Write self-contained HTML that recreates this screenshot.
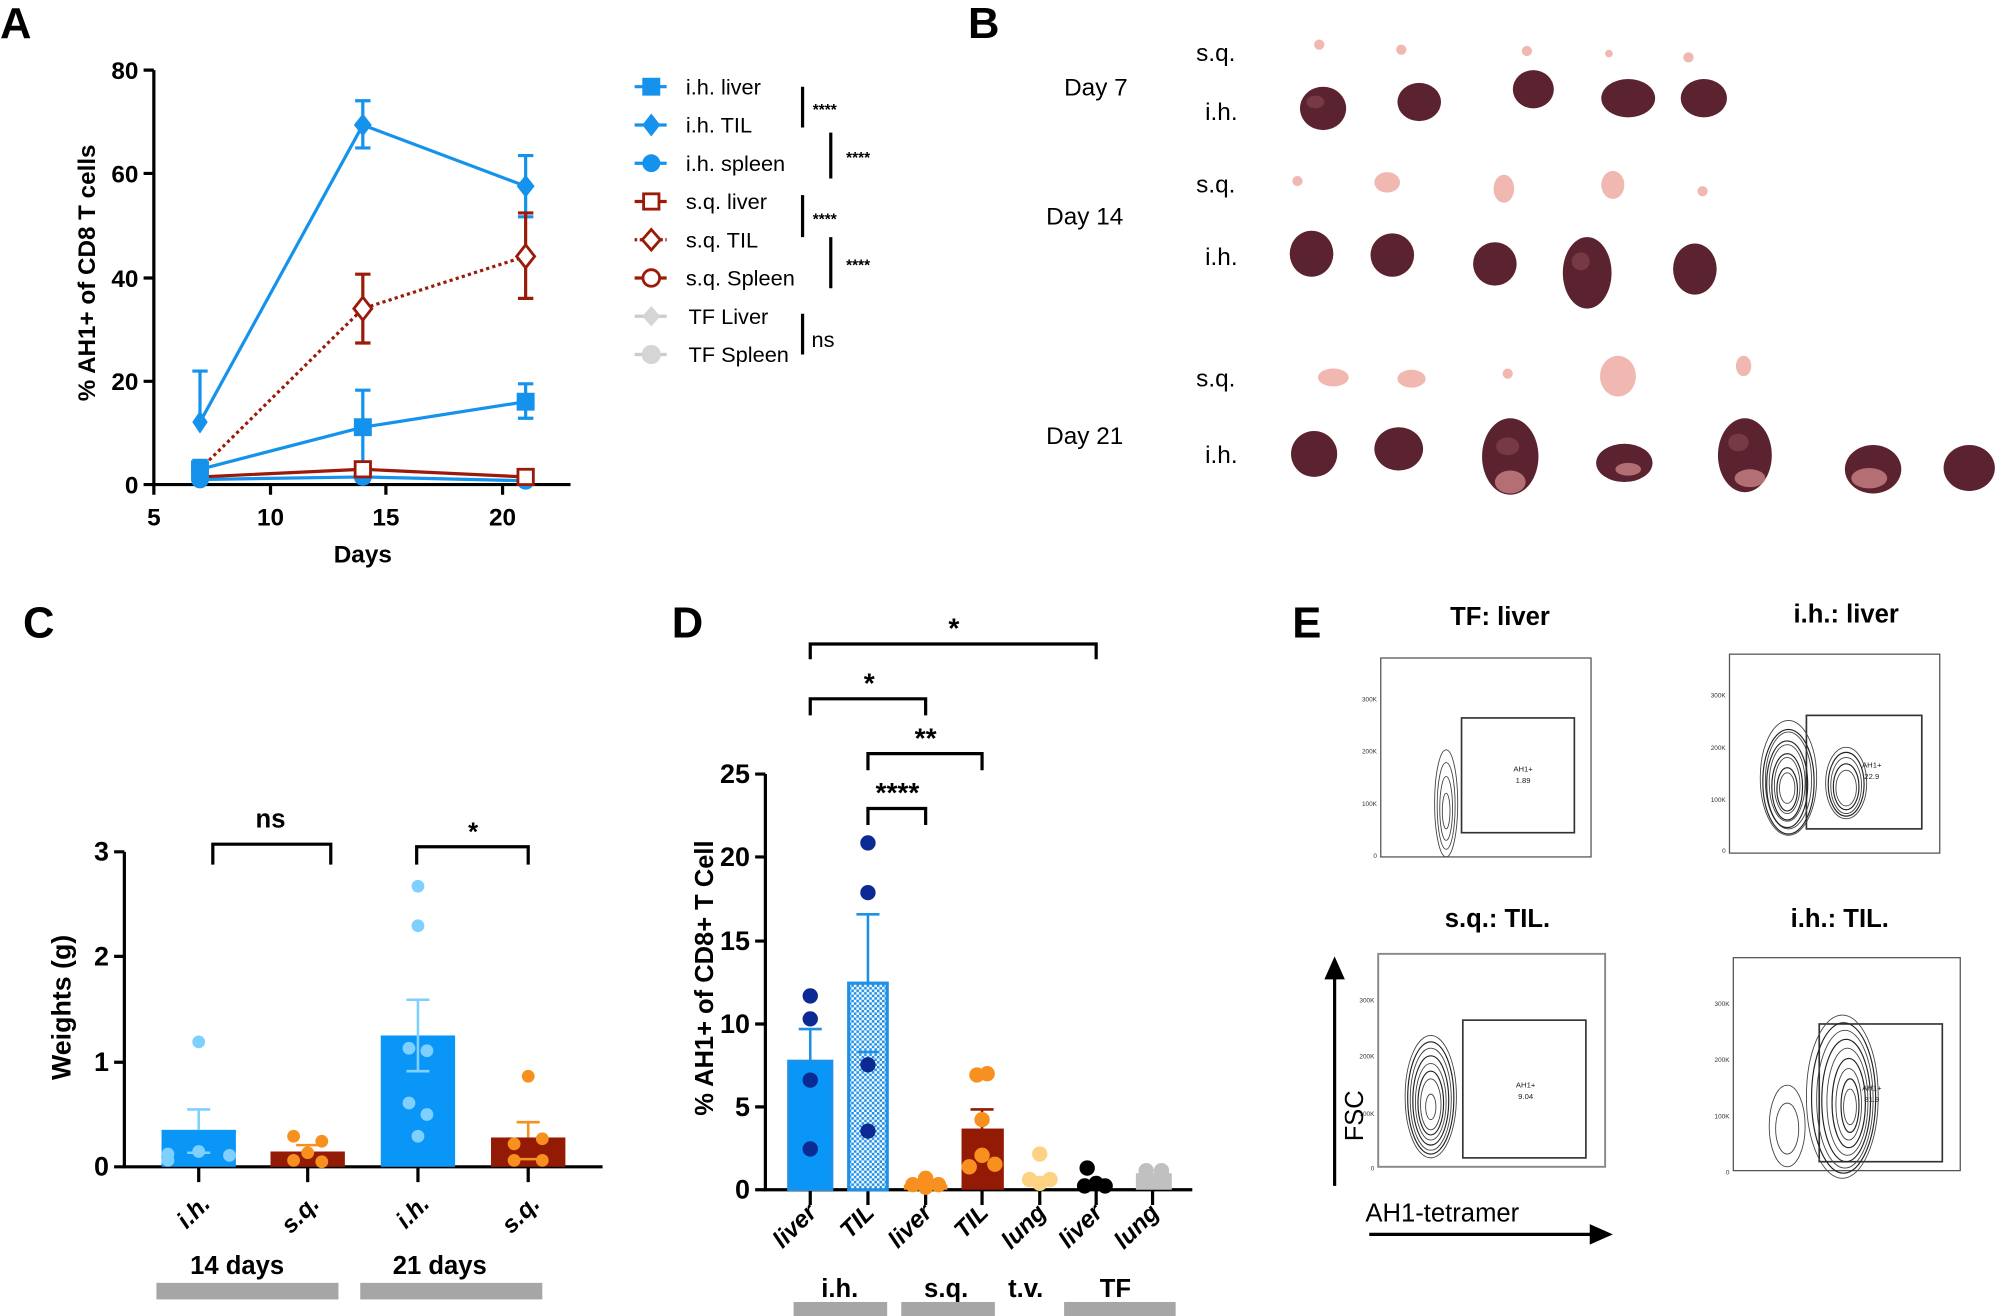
<!DOCTYPE html>
<html><head><meta charset="utf-8"><style>
html,body{margin:0;padding:0;background:#fff;}
svg{display:block;}
text{font-family:"Liberation Sans",sans-serif;}
</style></head><body>
<svg width="2000" height="1316" viewBox="0 0 1560 1032" preserveAspectRatio="none" xmlns="http://www.w3.org/2000/svg">
<defs>
<pattern id="hatch" width="4" height="4" patternUnits="userSpaceOnUse">
<rect width="4" height="4" fill="#fff"/><rect width="2" height="2" fill="#1e90e8"/><rect x="2" y="2" width="2" height="2" fill="#1e90e8"/>
</pattern>
</defs>
<g font-weight="bold" font-size="34" fill="#000">
<text x="0" y="30">A</text><text x="755" y="30">B</text>
<text x="18" y="500">C</text><text x="524" y="500">D</text><text x="1008" y="500">E</text>
</g>

<!-- Panel A -->
<g stroke="#000" stroke-width="2.5" fill="none">
<path d="M120 55 V380 H445"/>
<path d="M112 55H120M112 136H120M112 218H120M112 299H120M112 380H120"/>
<path d="M120 380V388M211 380V388M301 380V388M392 380V388"/>
</g>
<g font-size="19" font-weight="bold" text-anchor="end">
<text x="108" y="62">80</text><text x="108" y="143">60</text><text x="108" y="225">40</text><text x="108" y="306">20</text><text x="108" y="387">0</text>
</g>
<g font-size="19" font-weight="bold" text-anchor="middle">
<text x="120" y="412">5</text><text x="211" y="412">10</text><text x="301" y="412">15</text><text x="392" y="412">20</text>
<text x="283" y="441">Days</text>
</g>
<text transform="translate(74 214) rotate(-90)" font-size="19" font-weight="bold" text-anchor="middle">% AH1+ of CD8 T cells</text>
<g stroke="#1592ec" stroke-width="2.5" fill="none">
<path d="M156 331 L283 98 L410 146"/>
<path d="M156 368 L283 335 L410 315"/>
<path d="M156 376 L283 374 L410 377"/>
<path d="M156 331V291M150 291H162M283 98V79M277 79H289M283 98V116M277 116H289M410 146V122M404 122H416M410 146V170M404 170H416"/>
<path d="M156 368V361M150 361H162M283 335V306M277 306H289M283 335V364M277 364H289M410 315V301M404 301H416M410 315V328M404 328H416"/>
</g>
<g stroke="#9b1a0a" stroke-width="2.5" fill="none">
<path d="M156 368 L283 242 L410 201" stroke-dasharray="2.5 2.5"/>
<path d="M156 374 L283 368 L410 374"/>
<path d="M283 242V215M277 215H289M283 242V269M277 269H289M410 201V167M404 167H416M410 201V234M404 234H416"/>
</g>
<g fill="#1592ec">
<path d="M156 322 L162 331 L156 340 L150 331Z"/><path d="M283 89 L290 98 L283 107 L276 98Z"/><path d="M410 137 L417 146 L410 155 L403 146Z"/>
<rect x="149" y="361" width="14" height="14"/><rect x="276" y="328" width="14" height="14"/><rect x="403" y="308" width="14" height="14"/>
<circle cx="156" cy="376" r="7"/><circle cx="283" cy="374" r="7"/><circle cx="410" cy="377" r="7"/>
</g>
<g fill="#fff" stroke="#9b1a0a" stroke-width="2.2">
<path d="M283 233 L290 242 L283 251 L276 242Z"/><path d="M410 192 L417 201 L410 210 L403 201Z"/>
<rect x="277" y="362" width="12" height="12"/><rect x="404" y="368" width="12" height="12"/>
</g>
<g stroke-width="2.5" fill="none">
<path d="M495 68H520M495 98H520M495 128H520" stroke="#1592ec"/>
<path d="M495 158H520M495 218H520" stroke="#9b1a0a"/>
<path d="M495 188H520" stroke="#9b1a0a" stroke-dasharray="2 2"/>
<path d="M495 248H520M495 278H520" stroke="#ccc"/>
</g>
<rect x="501" y="61" width="14" height="14" fill="#1592ec"/>
<path d="M508 89 L515 98 L508 107 L501 98Z" fill="#1592ec"/>
<circle cx="508" cy="128" r="7" fill="#1592ec"/>
<rect x="502" y="152" width="12" height="12" fill="#fff" stroke="#9b1a0a" stroke-width="2.2"/>
<path d="M508 180 L515 188 L508 196 L501 188Z" fill="#fff" stroke="#9b1a0a" stroke-width="2.2"/>
<circle cx="508" cy="218" r="6.5" fill="#fff" stroke="#9b1a0a" stroke-width="2.2"/>
<path d="M508 240 L515 248 L508 256 L501 248Z" fill="#d5d5d5"/>
<circle cx="508" cy="278" r="7.5" fill="#d5d5d5"/>
<g font-size="17" fill="#000">
<text x="535" y="74">i.h. liver</text><text x="535" y="104">i.h. TIL</text><text x="535" y="134">i.h. spleen</text>
<text x="535" y="164">s.q. liver</text><text x="535" y="194">s.q. TIL</text><text x="535" y="224">s.q. Spleen</text>
<text x="537" y="254">TF Liver</text><text x="537" y="284">TF Spleen</text>
</g>
<g stroke="#000" stroke-width="2.5">
<path d="M626 68V100M648 104V140M626 153V186M648 186V226M626 246V278"/>
</g>
<g font-size="12" font-weight="bold"><text x="634" y="90">****</text><text x="660" y="128">****</text><text x="634" y="176">****</text><text x="660" y="212">****</text></g>
<text x="633" y="272" font-size="17">ns</text>

<!-- Panel B -->
<g font-size="19" fill="#000">
<text x="933" y="48">s.q.</text><text x="830" y="75">Day 7</text><text x="940" y="94">i.h.</text>
<text x="933" y="151">s.q.</text><text x="816" y="176">Day 14</text><text x="940" y="208">i.h.</text>
<text x="933" y="303">s.q.</text><text x="816" y="348">Day 21</text><text x="940" y="363">i.h.</text>
</g>
<g fill="#f0b8b0">
<circle cx="1029" cy="35" r="4"/><circle cx="1093" cy="39" r="4"/><circle cx="1191" cy="40" r="4"/><circle cx="1255" cy="42" r="3"/><circle cx="1317" cy="45" r="4"/>
<circle cx="1012" cy="142" r="4"/><ellipse cx="1082" cy="143" rx="10" ry="8"/><ellipse cx="1173" cy="148" rx="8" ry="11"/><ellipse cx="1258" cy="145" rx="9" ry="11"/><circle cx="1328" cy="150" r="4"/>
<ellipse cx="1040" cy="296" rx="12" ry="7"/><ellipse cx="1101" cy="297" rx="11" ry="7"/><circle cx="1176" cy="293" r="4"/><ellipse cx="1262" cy="295" rx="14" ry="16"/><ellipse cx="1360" cy="287" rx="6" ry="8"/>
</g>
<g fill="#5b2230">
<ellipse cx="1032" cy="85" rx="18" ry="17"/><ellipse cx="1107" cy="80" rx="17" ry="15"/><ellipse cx="1196" cy="70" rx="16" ry="15"/><ellipse cx="1270" cy="77" rx="21" ry="15"/><ellipse cx="1329" cy="77" rx="18" ry="15"/>
<ellipse cx="1023" cy="199" rx="17" ry="18"/><ellipse cx="1086" cy="200" rx="17" ry="17"/><ellipse cx="1166" cy="207" rx="17" ry="17"/><ellipse cx="1238" cy="214" rx="19" ry="28"/><ellipse cx="1322" cy="211" rx="17" ry="20"/>
<ellipse cx="1025" cy="356" rx="18" ry="18"/><ellipse cx="1091" cy="352" rx="19" ry="17"/><ellipse cx="1178" cy="358" rx="22" ry="30"/><ellipse cx="1267" cy="363" rx="22" ry="15"/><ellipse cx="1361" cy="357" rx="21" ry="29"/><ellipse cx="1461" cy="368" rx="22" ry="19"/><ellipse cx="1536" cy="367" rx="20" ry="18"/>
</g>
<g fill="#8a4a55" opacity="0.6">
<ellipse cx="1026" cy="80" rx="7" ry="5"/><ellipse cx="1176" cy="350" rx="9" ry="7"/><ellipse cx="1356" cy="347" rx="8" ry="7"/><ellipse cx="1233" cy="205" rx="7" ry="7"/>
</g>
<g fill="#d89090" opacity="0.7">
<ellipse cx="1178" cy="378" rx="12" ry="9"/><ellipse cx="1365" cy="375" rx="12" ry="7"/><ellipse cx="1270" cy="368" rx="10" ry="5"/><ellipse cx="1458" cy="375" rx="14" ry="8"/>
</g>

<!-- Panel C -->
<g stroke="#000" stroke-width="2.5" fill="none">
<path d="M97 668V915H470"/>
<path d="M89 668H97M89 750H97M89 833H97M89 915H97"/>
<path d="M155 915V927M240 915V927M326 915V927M412 915V927"/>
<path d="M166 678V662H258V678M325 678V664H412V678"/>
</g>
<g font-size="21" font-weight="bold" text-anchor="end">
<text x="85" y="675">3</text><text x="85" y="757">2</text><text x="85" y="840">1</text><text x="85" y="922">0</text>
</g>
<text transform="translate(55 790) rotate(-90)" font-size="21" font-weight="bold" text-anchor="middle">Weights (g)</text>
<g font-size="20" font-weight="bold" text-anchor="middle"><text x="211" y="649">ns</text><text x="369" y="659">*</text></g>
<rect x="126" y="886" width="58" height="29" fill="#0a96f7"/>
<rect x="211" y="903" width="58" height="12" fill="#931a04"/>
<rect x="297" y="812" width="58" height="103" fill="#0a96f7"/>
<rect x="383" y="892" width="58" height="23" fill="#931a04"/>
<g stroke="#7fd0ff" stroke-width="2"><path d="M155 886V870M146 870H164M326 812V784M317 784H335M326 812V840M317 840H335M146 904H164"/></g>
<g stroke="#f7901e" stroke-width="2"><path d="M240 903V898M231 898H249M412 892V880M403 880H421M403 909H421"/></g>
<g fill="#7fd0ff"><circle cx="155" cy="817" r="5"/><circle cx="131" cy="905" r="5"/><circle cx="131" cy="910" r="5"/><circle cx="155" cy="903" r="5"/><circle cx="179" cy="906" r="5"/>
<circle cx="326" cy="695" r="5"/><circle cx="326" cy="726" r="5"/><circle cx="319" cy="822" r="5"/><circle cx="333" cy="824" r="5"/><circle cx="319" cy="865" r="5"/><circle cx="333" cy="874" r="5"/><circle cx="326" cy="891" r="5"/></g>
<g fill="#f7901e"><circle cx="229" cy="891" r="5"/><circle cx="251" cy="895" r="5"/><circle cx="240" cy="904" r="5"/><circle cx="229" cy="910" r="5"/><circle cx="251" cy="911" r="5"/>
<circle cx="412" cy="844" r="5"/><circle cx="401" cy="897" r="5"/><circle cx="423" cy="893" r="5"/><circle cx="401" cy="910" r="5"/><circle cx="423" cy="910" r="5"/></g>
<g font-size="19" font-weight="bold" font-style="italic" text-anchor="end">
<text transform="translate(165 945) rotate(-45)">i.h.</text><text transform="translate(250 945) rotate(-45)">s.q.</text>
<text transform="translate(336 945) rotate(-45)">i.h.</text><text transform="translate(422 945) rotate(-45)">s.q.</text>
</g>
<g font-size="20" font-weight="bold" text-anchor="middle"><text x="185" y="999">14 days</text><text x="343" y="999">21 days</text></g>
<rect x="122" y="1006" width="142" height="13" fill="#a6a6a6"/><rect x="281" y="1006" width="142" height="13" fill="#a6a6a6"/>

<!-- Panel D -->
<g stroke="#000" stroke-width="2.5" fill="none">
<path d="M597 607V933H930"/>
<path d="M589 607H597M589 672H597M589 738H597M589 803H597M589 868H597M589 933H597"/>
<path d="M632 933V945M677 933V945M722 933V945M766 933V945M811 933V945M855 933V945M899 933V945"/>
<path d="M632 517V505H855V517M632 561V548H722V561M677 604V591H766V604M677 647V634H722V647"/>
</g>
<g font-size="21" font-weight="bold" text-anchor="end">
<text x="585" y="614">25</text><text x="585" y="679">20</text><text x="585" y="745">15</text><text x="585" y="810">10</text><text x="585" y="875">5</text><text x="585" y="940">0</text>
</g>
<text transform="translate(556 767) rotate(-90)" font-size="20" font-weight="bold" text-anchor="middle">% AH1+ of CD8+ T Cell</text>
<g font-size="22" font-weight="bold" text-anchor="middle"><text x="744" y="500">*</text><text x="678" y="543">*</text><text x="722" y="586">**</text><text x="700" y="629">****</text></g>
<rect x="615" y="832" width="34" height="101" fill="#0a96f7" stroke="#1e90e8" stroke-width="2"/>
<rect x="662" y="771" width="30" height="162" fill="url(#hatch)" stroke="#1e90e8" stroke-width="2.5"/>
<rect x="705" y="929" width="34" height="4" fill="#f7901e"/>
<rect x="750" y="885" width="33" height="48" fill="#931a04"/>
<g stroke="#1e90e8" stroke-width="2"><path d="M632 832V807M623 807H641M677 771V717M668 717H686M668 825H686"/></g>
<path d="M766 885V870M757 870H775" stroke="#931a04" stroke-width="2"/>
<g fill="#0b2a94"><circle cx="632" cy="781" r="6"/><circle cx="632" cy="799" r="6"/><circle cx="632" cy="847" r="6"/><circle cx="632" cy="901" r="6"/>
<circle cx="677" cy="661" r="6"/><circle cx="677" cy="700" r="6"/><circle cx="677" cy="835" r="6"/><circle cx="677" cy="887" r="6"/></g>
<g fill="#f7901e"><circle cx="722" cy="924" r="6"/><circle cx="712" cy="929" r="6"/><circle cx="732" cy="929" r="6"/><circle cx="722" cy="931" r="6"/>
<circle cx="762" cy="843" r="6"/><circle cx="770" cy="842" r="6"/><circle cx="766" cy="878" r="6"/><circle cx="766" cy="906" r="6"/><circle cx="756" cy="915" r="6"/><circle cx="776" cy="913" r="6"/></g>
<g fill="#fdd283"><circle cx="811" cy="905" r="6"/><circle cx="803" cy="925" r="6"/><circle cx="819" cy="925" r="6"/><circle cx="811" cy="928" r="6"/></g>
<g fill="#000"><circle cx="848" cy="916" r="6"/><circle cx="855" cy="928" r="6"/><circle cx="862" cy="930" r="6"/><circle cx="846" cy="930" r="6"/></g>
<g fill="#c0c0c0"><rect x="886" y="920" width="28" height="13"/><circle cx="894" cy="918" r="6"/><circle cx="906" cy="918" r="6"/></g>
<g font-size="19" font-weight="bold" font-style="italic" text-anchor="end">
<text transform="translate(638 952) rotate(-45)">liver</text><text transform="translate(683 952) rotate(-45)">TIL</text>
<text transform="translate(728 952) rotate(-45)">liver</text><text transform="translate(772 952) rotate(-45)">TIL</text>
<text transform="translate(817 952) rotate(-45)">lung</text><text transform="translate(861 952) rotate(-45)">liver</text>
<text transform="translate(905 952) rotate(-45)">lung</text>
</g>
<g font-size="20" font-weight="bold" text-anchor="middle"><text x="655" y="1017">i.h.</text><text x="738" y="1017">s.q.</text><text x="800" y="1017">t.v.</text><text x="870" y="1017">TF</text></g>
<rect x="619" y="1021" width="73" height="11" fill="#a6a6a6"/><rect x="703" y="1021" width="73" height="11" fill="#a6a6a6"/><rect x="830" y="1021" width="87" height="11" fill="#a6a6a6"/>

<!-- Panel E -->
<g font-size="20" font-weight="bold" text-anchor="middle">
<text x="1170" y="490">TF: liver</text><text x="1440" y="488">i.h.:  liver</text>
<text x="1168" y="727">s.q.: TIL.</text><text x="1435" y="727">i.h.: TIL.</text>
</g>
<g fill="none" stroke="#333" stroke-width="1">
<rect x="1077" y="516" width="164" height="156" stroke="#555"/>
<rect x="1140" y="563" width="88" height="90" stroke-width="1.3"/>
<rect x="1349" y="513" width="164" height="156" stroke="#555"/>
<rect x="1409" y="561" width="90" height="89" stroke-width="1.3"/>
<rect x="1075" y="748" width="177" height="167" stroke="#888" stroke-width="1.5"/>
<rect x="1141" y="800" width="96" height="108" stroke-width="1.3"/>
<rect x="1352" y="751" width="177" height="167" stroke="#555"/>
<rect x="1419" y="803" width="96" height="108" stroke-width="1.3"/>
</g>
<g fill="none" stroke="#444" stroke-width="0.7">
<ellipse cx="1128" cy="630" rx="9" ry="42"/><ellipse cx="1128" cy="632" rx="7" ry="34"/><ellipse cx="1128" cy="634" rx="5" ry="25"/><ellipse cx="1128" cy="636" rx="3" ry="14"/>
<ellipse cx="1395" cy="610" rx="22" ry="45"/><ellipse cx="1395" cy="612" rx="18" ry="38"/><ellipse cx="1394" cy="614" rx="14" ry="30"/><ellipse cx="1394" cy="616" rx="10" ry="22"/><ellipse cx="1394" cy="618" rx="6" ry="12"/>
<ellipse cx="1440" cy="614" rx="16" ry="28"/><ellipse cx="1440" cy="616" rx="12" ry="22"/><ellipse cx="1440" cy="618" rx="8" ry="14"/>
<ellipse cx="1116" cy="860" rx="20" ry="48"/><ellipse cx="1116" cy="862" rx="16" ry="40"/><ellipse cx="1116" cy="864" rx="12" ry="30"/><ellipse cx="1116" cy="866" rx="8" ry="20"/><ellipse cx="1116" cy="868" rx="4" ry="10"/>
<ellipse cx="1394" cy="883" rx="14" ry="32"/><ellipse cx="1394" cy="885" rx="9" ry="20"/>
<ellipse cx="1437" cy="860" rx="28" ry="64"/><ellipse cx="1439" cy="862" rx="22" ry="54"/><ellipse cx="1441" cy="864" rx="16" ry="42"/><ellipse cx="1442" cy="866" rx="10" ry="28"/><ellipse cx="1443" cy="868" rx="5" ry="14"/>
</g>
<g fill="none" stroke="#222" stroke-width="0.9">
<ellipse cx="1395" cy="613" rx="20" ry="41"/><ellipse cx="1394" cy="615" rx="16" ry="34"/><ellipse cx="1394" cy="617" rx="12" ry="26"/><ellipse cx="1394" cy="619" rx="8" ry="17"/>
<ellipse cx="1440" cy="615" rx="14" ry="25"/><ellipse cx="1440" cy="617" rx="10" ry="18"/>
<ellipse cx="1116" cy="861" rx="18" ry="44"/><ellipse cx="1116" cy="863" rx="14" ry="35"/><ellipse cx="1116" cy="865" rx="10" ry="25"/>
<ellipse cx="1438" cy="861" rx="25" ry="59"/><ellipse cx="1440" cy="863" rx="19" ry="48"/><ellipse cx="1442" cy="865" rx="13" ry="35"/><ellipse cx="1443" cy="867" rx="7" ry="21"/>
</g>
<g font-size="6" text-anchor="middle" fill="#222">
<text x="1188" y="605">AH1+</text><text x="1188" y="614">1.89</text>
<text x="1460" y="602">AH1+</text><text x="1460" y="611">22.9</text>
<text x="1190" y="853">AH1+</text><text x="1190" y="862">9.04</text>
<text x="1460" y="855">AH1+</text><text x="1460" y="864">81.9</text>
</g>
<g font-size="5" fill="#333" text-anchor="end">
<text x="1074" y="550">300K</text><text x="1074" y="591">200K</text><text x="1074" y="632">100K</text><text x="1074" y="673">0</text>
<text x="1346" y="547">300K</text><text x="1346" y="588">200K</text><text x="1346" y="629">100K</text><text x="1346" y="669">0</text>
<text x="1072" y="786">300K</text><text x="1072" y="830">200K</text><text x="1072" y="875">100K</text><text x="1072" y="918">0</text>
<text x="1349" y="789">300K</text><text x="1349" y="833">200K</text><text x="1349" y="877">100K</text><text x="1349" y="921">0</text>
</g>
<path d="M1041 930V762" stroke="#000" stroke-width="2.5"/><path d="M1033 768 L1041 750 L1049 768Z" fill="#000"/>
<text transform="translate(1063 875) rotate(-90)" font-size="20" text-anchor="middle">FSC</text>
<text x="1065" y="958" font-size="20">AH1-tetramer</text>
<path d="M1068 968H1243" stroke="#000" stroke-width="2.5"/><path d="M1240 960 L1258 968 L1240 976Z" fill="#000"/>
</svg>
</body></html>
